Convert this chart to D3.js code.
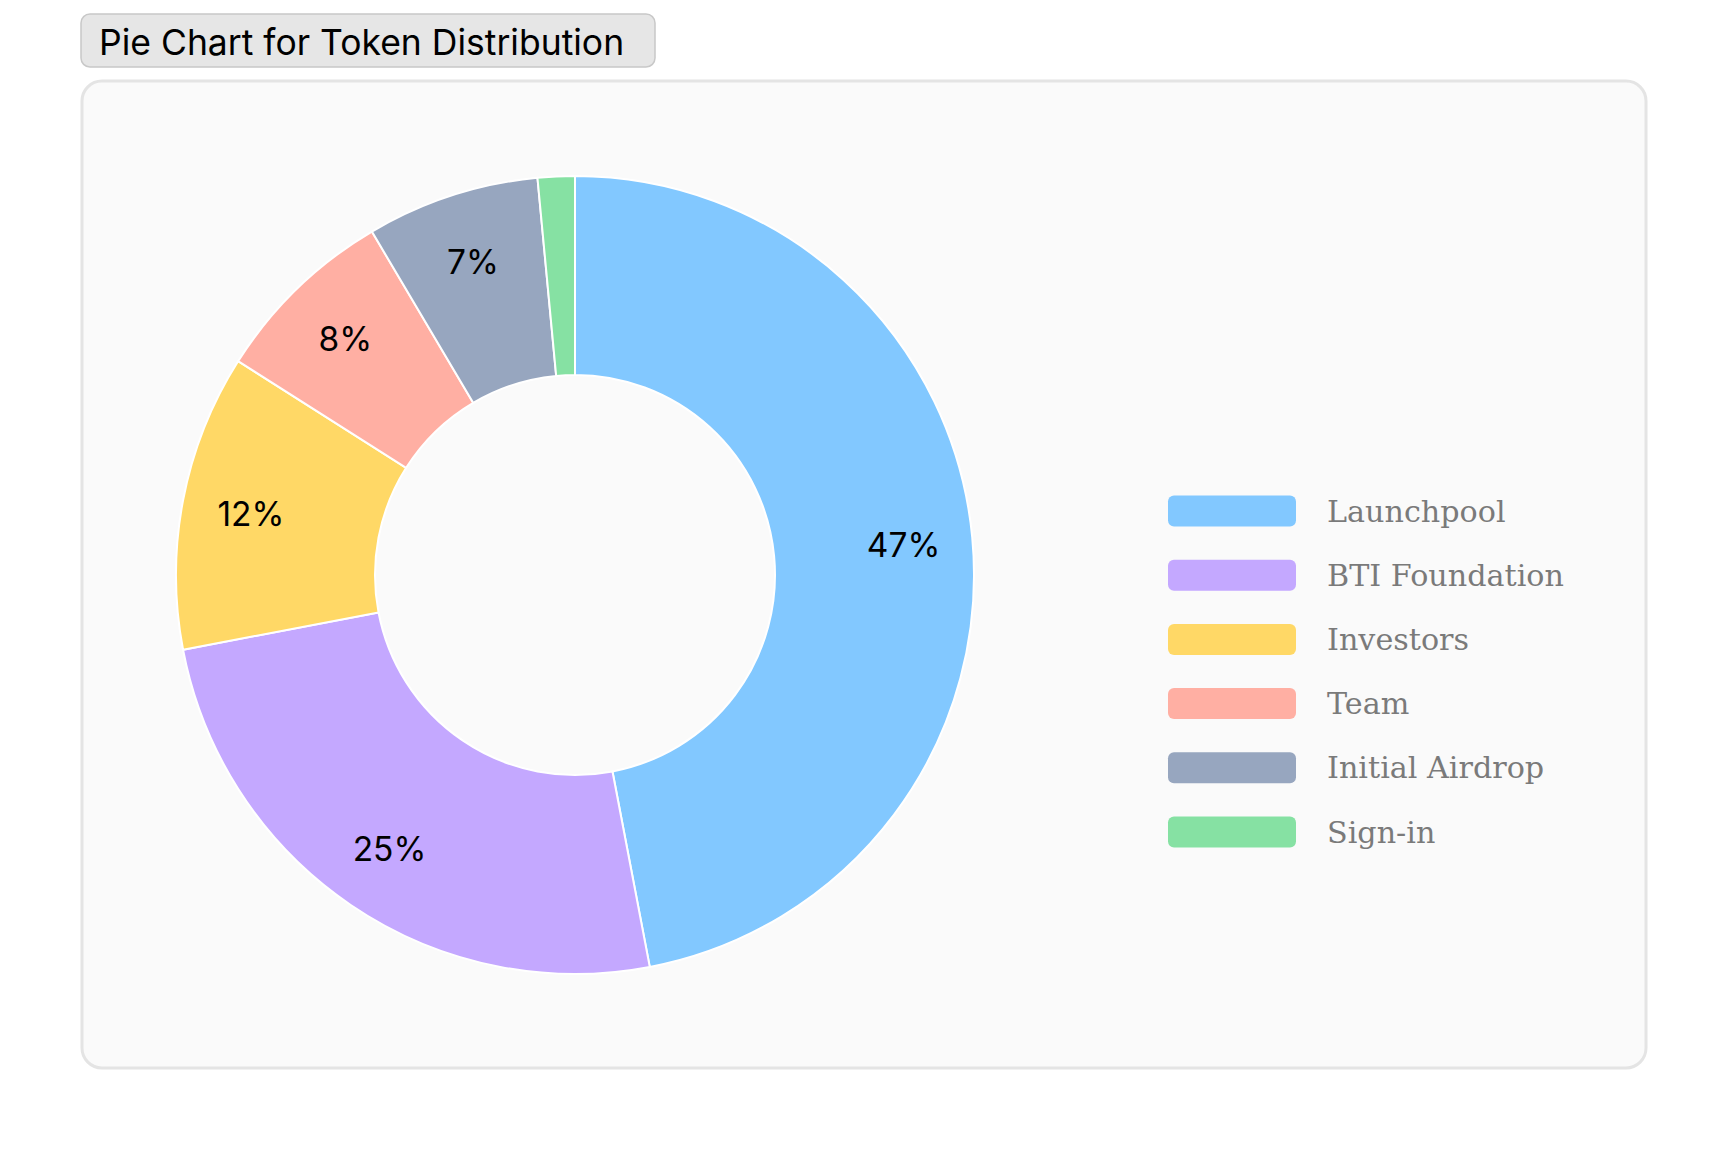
<!DOCTYPE html>
<html>
<head>
<meta charset="utf-8">
<script src="https://cdn.jsdelivr.net/npm/d3@7"></script>
<style>
  body { margin: 0; background: #fff; }
  svg { display: block; }
</style>
</head>
<body>
<svg id="chart" width="1728" height="1152"></svg>
<script>
// token distribution data
var labels = ["Launchpool", "BTI Foundation", "Investors", "Team", "Initial Airdrop", "Sign-in"];
var shares = [47, 25, 12, 7.5, 7, 1.5];
var colors = ["#82c8ff", "#c4a8ff", "#ffd866", "#ffafa3", "#97a6bf", "#86e1a3"];

var svg = d3.select('#chart');

// title tag
svg.append('rect')
    .attr('x', 81).attr('y', 14)
    .attr('width', 574).attr('height', 53)
    .attr('rx', 9)
    .style('fill', '#e6e6e6')
    .style('stroke', '#c8c8c8')
    .style('stroke-width', 1.5);
svg.append('text')
    .attr('x', 99).attr('y', 55)
    .style('font-family', 'Inter, Roboto, sans-serif')
    .style('font-size', '35.5px')
    .style('fill', '#000')
    .text('Pie Chart for Token Distribution');

// card
svg.append('rect')
    .attr('x', 82).attr('y', 81)
    .attr('width', 1564).attr('height', 987)
    .attr('rx', 20)
    .style('fill', '#fafafa')
    .style('stroke', '#e4e4e4')
    .style('stroke-width', 3);

var cx = 575, cy = 575, outer = 399, inner = 200;

var pie = d3.pie().sort(null).value(function(d) { return d; });
var arc = d3.arc().innerRadius(inner).outerRadius(outer);
var labelArc = d3.arc().innerRadius(330).outerRadius(330);
var total = d3.sum(shares);

var g = svg.append('g').attr('transform', 'translate(' + cx + ',' + cy + ')');

g.selectAll('path').data(pie(shares))
    .enter().append('path')
        .attr('d', arc)
        .style('fill', function(d, i) { return colors[i]; })
        .style('stroke', '#fff')
        .style('stroke-width', 2);

// small slices get no label
g.selectAll('text').data(pie(shares).filter(function(d) { return d.value / total >= 0.03; }))
    .enter().append('text')
        .attr('transform', function(d) { return 'translate(' + labelArc.centroid(d) + ')'; })
        .attr('text-anchor', 'middle')
        .attr('dy', '0.38em')
        .style('font-family', 'Inter, Roboto, sans-serif')
        .style('font-size', '33.5px')
        .style('fill', '#000')
        .text(function(d) { return Math.round(d.value / total * 100) + '%'; });

// legend
var yScale = d3.scalePoint().domain(labels).range([511, 832]);
var legend = svg.append('g').selectAll('g').data(labels)
    .enter().append('g')
        .attr('transform', function(d) { return 'translate(1168,' + yScale(d) + ')'; });
legend.append('rect')
    .attr('x', 0).attr('y', -15.5)
    .attr('width', 128).attr('height', 31)
    .attr('rx', 6)
    .style('fill', function(d, i) { return colors[i]; });
legend.append('text')
    .attr('x', 159).attr('dy', '0.35em')
    .style('font-family', '"DejaVu Serif", serif')
    .style('font-size', '30.2px')
    .style('fill', '#7a7a7a')
    .text(function(d) { return d; });
</script>
</body>
</html>
